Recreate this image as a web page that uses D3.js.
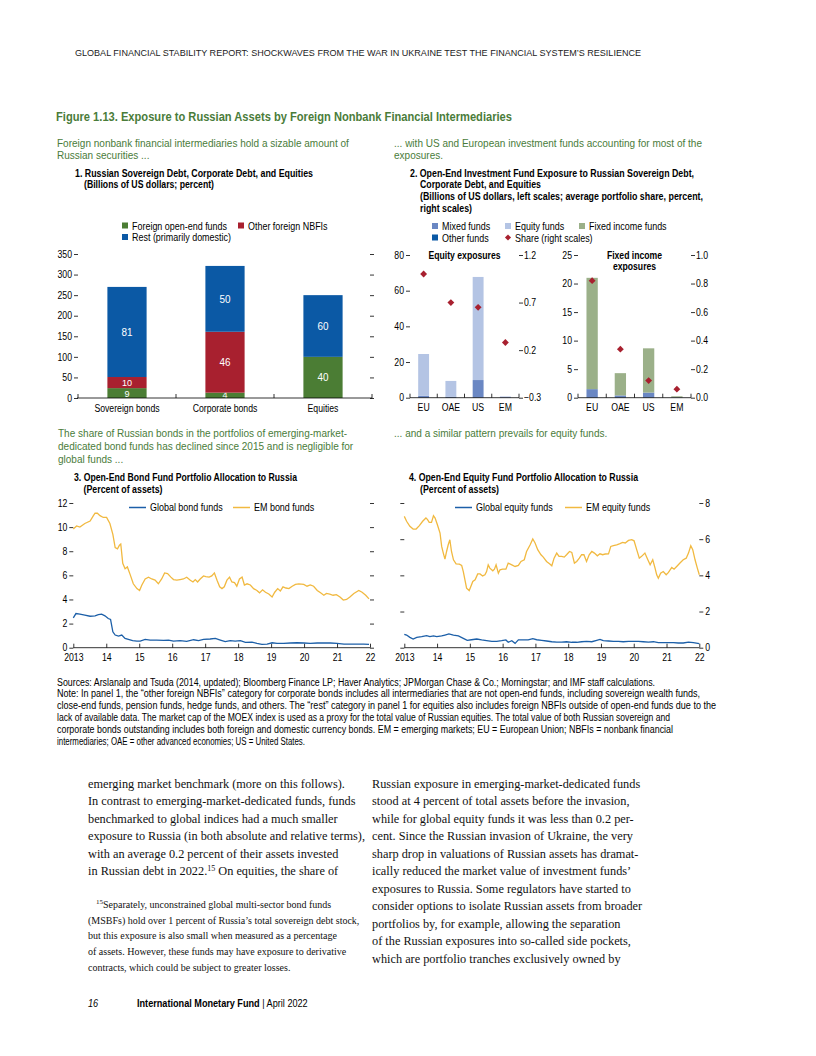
<!DOCTYPE html>
<html>
<head>
<meta charset="utf-8">
<script src="https://cdn.jsdelivr.net/npm/d3@7"></script>
<style>
  body { margin: 0; background: #fff; }
  svg { display: block; }
</style>
</head>
<body>
<svg id="page" width="816" height="1056"></svg>
<script>
// ---------- DATA ----------
// Panel 1 (billions of US dollars; labels are percent of total)
const p1Categories = ["Sovereign bonds", "Corporate bonds", "Equities"];
const p1Foreign = [24, 13, 100];
const p1Other = [27, 148, 0];
const p1Rest = [219, 160, 150];
const p1PctForeign = [9, 4, 40];
const p1PctOther = [10, 46, null];
const p1PctRest = [81, 50, 60];
const p1Ticks = [0, 50, 100, 150, 200, 250, 300, 350];

// Panel 2
const p2Regions = ["EU", "OAE", "US", "EM"];
const eqMixed = [1.1, 0.6, 9.9, 0.3];
const eqEquity = [23.4, 8.8, 57.8, 0.4];
const eqOther = [0, 0, 0, 0];
const eqShare = [1.0, 0.70, 0.65, 0.28];
const fiMixed = [1.5, 0.4, 0.9, 0.05];
const fiFixed = [19.5, 3.9, 7.75, 0.2];
const fiOther = [0, 0, 0, 0];
const fiShare = [0.82, 0.34, 0.12, 0.06];
const eqLeftTicks = [0, 20, 40, 60, 80];
const eqRightTicks = [-0.3, 0.2, 0.7, 1.2];
const fiLeftTicks = [0, 5, 10, 15, 20, 25];
const fiRightTicks = [0, 0.2, 0.4, 0.6, 0.8, 1.0];

// Panel 3 (percent of assets) [decimal year, value]
const globalBond = [[2013.00,2.48],[2013.08,2.83],[2013.20,2.78],[2013.35,2.70],[2013.51,2.61],[2013.66,2.64],[2013.76,2.75],[2013.86,2.78],[2013.96,2.64],[2014.06,2.42],[2014.13,2.34],[2014.20,1.32],[2014.27,1.05],[2014.37,0.96],[2014.47,1.05],[2014.57,0.77],[2014.67,0.69],[2014.80,0.58],[2014.93,0.55],[2015.03,0.55],[2015.18,0.69],[2015.33,0.63],[2015.53,0.63],[2015.74,0.60],[2015.89,0.63],[2016.04,0.55],[2016.24,0.58],[2016.44,0.52],[2016.65,0.66],[2016.80,0.58],[2016.95,0.69],[2017.15,0.72],[2017.31,0.77],[2017.46,0.63],[2017.61,0.50],[2017.76,0.58],[2017.91,0.55],[2018.07,0.58],[2018.22,0.44],[2018.42,0.47],[2018.57,0.36],[2018.72,0.28],[2018.88,0.30],[2019.03,0.41],[2019.18,0.36],[2019.38,0.36],[2019.59,0.39],[2019.79,0.41],[2019.99,0.39],[2020.19,0.36],[2020.40,0.39],[2020.60,0.39],[2020.80,0.39],[2021.00,0.36],[2021.21,0.30],[2021.41,0.30],[2021.61,0.30],[2021.81,0.30],[2021.97,0.28]];
const emBond = [[2013.00,9.85],[2013.10,10.1],[2013.20,10.0],[2013.35,10.3],[2013.51,10.5],[2013.61,10.95],[2013.66,11.15],[2013.73,11.15],[2013.81,10.95],[2013.91,10.8],[2014.01,10.8],[2014.11,10.3],[2014.20,9.4],[2014.27,8.3],[2014.34,8.2],[2014.40,8.5],[2014.44,8.6],[2014.50,7.0],[2014.57,6.55],[2014.64,6.7],[2014.72,6.1],[2014.82,5.3],[2014.93,4.9],[2015.01,4.75],[2015.08,5.2],[2015.18,5.7],[2015.28,5.85],[2015.38,5.7],[2015.48,5.6],[2015.58,5.3],[2015.68,5.7],[2015.77,6.2],[2015.86,6.15],[2015.96,5.85],[2016.04,5.65],[2016.14,5.6],[2016.24,5.65],[2016.34,5.7],[2016.44,5.85],[2016.55,5.6],[2016.63,5.45],[2016.70,5.65],[2016.77,5.45],[2016.85,5.7],[2016.95,5.95],[2017.02,5.9],[2017.12,5.85],[2017.20,5.95],[2017.28,6.2],[2017.36,5.6],[2017.44,5.05],[2017.51,4.9],[2017.58,5.05],[2017.66,5.6],[2017.74,5.85],[2017.81,5.45],[2017.89,5.4],[2017.96,5.1],[2018.04,5.7],[2018.12,5.85],[2018.19,5.2],[2018.27,5.3],[2018.37,5.2],[2018.47,4.9],[2018.57,4.75],[2018.65,4.55],[2018.74,4.8],[2018.83,4.6],[2018.93,4.45],[2019.03,4.2],[2019.11,4.6],[2019.20,4.9],[2019.28,4.7],[2019.36,5.05],[2019.45,4.95],[2019.54,4.9],[2019.64,5.1],[2019.74,5.25],[2019.84,5.3],[2019.99,5.25],[2020.09,5.1],[2020.19,5.2],[2020.29,5.1],[2020.40,4.75],[2020.50,4.55],[2020.60,4.35],[2020.68,4.5],[2020.78,4.45],[2020.88,4.35],[2020.98,4.4],[2021.09,4.2],[2021.19,3.95],[2021.29,4.0],[2021.39,4.2],[2021.51,4.5],[2021.66,4.75],[2021.76,4.6],[2021.87,4.35],[2021.97,4.05]];
const p3Ticks = [0, 2, 4, 6, 8, 10, 12];

// Panel 4 (percent of assets)
const globalEquity = [[2013.00,0.74],[2013.07,0.70],[2013.17,0.57],[2013.27,0.48],[2013.38,0.57],[2013.53,0.61],[2013.68,0.67],[2013.78,0.61],[2013.89,0.65],[2013.99,0.61],[2014.14,0.65],[2014.24,0.70],[2014.36,0.76],[2014.50,0.70],[2014.65,0.65],[2014.80,0.52],[2014.92,0.41],[2015.05,0.44],[2015.21,0.48],[2015.36,0.43],[2015.51,0.39],[2015.67,0.35],[2015.82,0.35],[2015.97,0.39],[2016.10,0.43],[2016.17,0.30],[2016.28,0.39],[2016.38,0.24],[2016.48,0.43],[2016.63,0.43],[2016.78,0.43],[2016.92,0.50],[2017.04,0.44],[2017.19,0.41],[2017.34,0.37],[2017.50,0.33],[2017.65,0.31],[2017.80,0.31],[2017.95,0.33],[2018.11,0.30],[2018.26,0.30],[2018.41,0.33],[2018.56,0.35],[2018.72,0.33],[2018.87,0.41],[2018.97,0.46],[2019.07,0.39],[2019.23,0.37],[2019.38,0.35],[2019.53,0.35],[2019.68,0.33],[2019.84,0.35],[2019.99,0.35],[2020.14,0.35],[2020.29,0.33],[2020.45,0.31],[2020.60,0.33],[2020.75,0.28],[2020.90,0.28],[2021.06,0.28],[2021.21,0.28],[2021.36,0.26],[2021.51,0.26],[2021.67,0.31],[2021.82,0.28],[2022.00,0.22]];
const emEquity = [[2013.00,7.26],[2013.07,6.99],[2013.17,6.71],[2013.27,6.56],[2013.36,6.56],[2013.46,6.75],[2013.56,6.99],[2013.66,7.17],[2013.71,7.08],[2013.76,6.93],[2013.83,6.93],[2013.89,7.30],[2013.94,7.17],[2014.01,6.80],[2014.09,6.34],[2014.14,5.60],[2014.19,5.23],[2014.24,4.90],[2014.29,5.32],[2014.34,5.69],[2014.39,5.97],[2014.44,5.32],[2014.50,4.86],[2014.58,4.64],[2014.68,4.62],[2014.75,4.55],[2014.80,4.21],[2014.85,3.75],[2014.90,3.29],[2014.98,3.16],[2015.03,3.38],[2015.09,3.66],[2015.16,3.75],[2015.24,4.08],[2015.31,4.08],[2015.39,3.97],[2015.46,4.03],[2015.51,4.21],[2015.56,4.58],[2015.61,4.40],[2015.70,4.25],[2015.75,4.34],[2015.80,4.58],[2015.87,4.12],[2015.92,4.31],[2016.00,4.34],[2016.10,4.34],[2016.17,4.68],[2016.28,4.58],[2016.38,4.49],[2016.48,4.55],[2016.56,4.77],[2016.66,4.86],[2016.73,5.32],[2016.84,5.69],[2016.92,6.01],[2016.99,5.79],[2017.07,5.42],[2017.17,5.14],[2017.24,5.01],[2017.34,4.77],[2017.43,4.64],[2017.50,4.53],[2017.57,4.95],[2017.65,5.23],[2017.72,5.05],[2017.80,5.05],[2017.88,5.01],[2017.95,5.14],[2018.04,5.32],[2018.11,5.27],[2018.19,4.68],[2018.26,4.77],[2018.34,4.95],[2018.41,5.14],[2018.48,5.14],[2018.56,4.77],[2018.64,5.14],[2018.72,5.32],[2018.80,5.23],[2018.89,5.08],[2018.97,5.19],[2019.05,5.14],[2019.13,5.18],[2019.23,5.19],[2019.30,5.60],[2019.38,5.64],[2019.48,5.69],[2019.58,5.75],[2019.66,5.82],[2019.74,5.79],[2019.84,5.93],[2019.94,5.97],[2020.01,5.91],[2020.09,5.42],[2020.17,4.95],[2020.24,5.05],[2020.34,5.23],[2020.43,4.86],[2020.50,4.58],[2020.58,4.86],[2020.65,4.40],[2020.70,4.03],[2020.75,3.84],[2020.82,4.12],[2020.90,4.21],[2020.99,4.03],[2021.06,4.16],[2021.16,4.44],[2021.23,4.34],[2021.31,4.49],[2021.41,4.68],[2021.51,4.86],[2021.60,4.95],[2021.67,5.23],[2021.74,5.64],[2021.80,5.42],[2021.87,4.86],[2021.94,4.40],[2022.00,4.03]];
const p4Ticks = [0, 2, 4, 6, 8];
const yearTicks = [2013, 2014, 2015, 2016, 2017, 2018, 2019, 2020, 2021, 2022];
const yearLabels = ["2013", "14", "15", "16", "17", "18", "19", "20", "21", "22"];

// ---------- STYLE ----------
const SANS = "'Liberation Sans', Arial, sans-serif";
const SERIF = "'Liberation Serif', 'DejaVu Serif', serif";
const SX = 0.87; // horizontal squeeze to mimic a condensed face
const GREEN = "#4a7c3a";
const C_FOREIGN = "#4b7d34", C_OTHER = "#a8202f", C_REST = "#0b59a5";
const C_MIXED = "#6a87c3", C_EQUITY = "#b4c4e4", C_FIXED = "#9bb089", C_OTHERF = "#0b59a5";
const C_GLOBAL = "#1c5fa8", C_EM = "#f1b940";

const svg = d3.select("#page");

function txt(x, y, s, o = {}) {
  let sx = o.sx !== undefined ? o.sx : (o.family === SERIF ? 1 : SX);
  if (o.len) sx = 1;
  const t = svg.append("text")
    .attr("transform", `translate(${x},${y}) scale(${sx},1)`)
    .attr("font-family", o.family || SANS)
    .attr("font-size", o.size || 10)
    .attr("font-weight", o.weight || "normal")
    .attr("fill", o.fill || "#000")
    .attr("text-anchor", o.anchor || "start")
    .text(s);
  if (o.len) t.attr("textLength", o.len).attr("lengthAdjust", "spacingAndGlyphs");
  if (o.italic) t.attr("font-style", "italic");
  return t;
}

function styleAxis(g) {
  g.select(".domain").remove();
  g.selectAll("line").attr("stroke", "#000").attr("stroke-width", 0.8);
  g.selectAll("text").each(function () {
    const t = d3.select(this);
    const x = +t.attr("x") || 0;
    t.attr("x", x / SX).attr("transform", `scale(${SX},1)`);
  }).attr("font-family", SANS).attr("font-size", 10).attr("fill", "#000");
}

// ---------- PAGE TEXT ----------
txt(75, 55.5, "GLOBAL FINANCIAL STABILITY REPORT: SHOCKWAVES FROM THE WAR IN UKRAINE TEST THE FINANCIAL SYSTEM\u2019S RESILIENCE",
  { size: 8.4, len: 566, fill: "#222" });
txt(56, 121, "Figure 1.13. Exposure to Russian Assets by Foreign Nonbank Financial Intermediaries",
  { size: 12.8, weight: "bold", fill: GREEN, len: 456 });

const SUB = { size: 11.6, fill: GREEN, sx: 0.865 };
const B = (len) => ({ size: 10, weight: "bold", len });
txt(57, 146.7, "Foreign nonbank financial intermediaries hold a sizable amount of", SUB);
txt(57, 158.5, "Russian securities ...", SUB);
txt(75, 176.5, "1. Russian Sovereign Debt, Corporate Debt, and Equities", B(238));
txt(84, 188, "(Billions of US dollars; percent)", B(130));

txt(394, 146.7, "... with US and European investment funds accounting for most of the", SUB);
txt(394, 158.5, "exposures.", SUB);
txt(410, 176.7, "2. Open-End Investment Fund Exposure to Russian Sovereign Debt,", B(284));
txt(420, 188.3, "Corporate Debt, and Equities", B(121));
txt(420, 200, "(Billions of US dollars, left scales; average portfolio share, percent,", B(283));
txt(420, 211.6, "right scales)", B(52));

txt(58, 436.7, "The share of Russian bonds in the portfolios of emerging-market-", SUB);
txt(58, 450, "dedicated bond funds has declined since 2015 and is negligible for", SUB);
txt(58, 463.3, "global funds ...", SUB);
txt(74, 481, "3. Open-End Bond Fund Portfolio Allocation to Russia", B(223));
txt(83.5, 492.7, "(Percent of assets)", B(79));

txt(394, 436.7, "... and a similar pattern prevails for equity funds.", SUB);
txt(409, 481, "4. Open-End Equity Fund Portfolio Allocation to Russia", B(229));
txt(420, 492.7, "(Percent of assets)", B(79));

// ---------- PANEL 1 ----------
const x1 = d3.scaleBand().domain(p1Categories).range([78, 372]).paddingInner(0.6).paddingOuter(0.3);
const y1 = d3.scaleLinear().domain([0, 350]).range([398, 254]);

svg.append("g").attr("transform", "translate(78,0)")
  .call(d3.axisLeft(y1).tickValues(p1Ticks).tickSize(4).tickPadding(2)).call(styleAxis);
svg.append("g").attr("transform", "translate(370,0)")
  .call(d3.axisRight(y1).tickValues(p1Ticks).tickSize(4).tickFormat("")).call(styleAxis);

const p1Stack = p1Categories.map((c, i) => ({ c, segs: [
  { v: p1Foreign[i], pct: p1PctForeign[i], color: C_FOREIGN },
  { v: p1Other[i], pct: p1PctOther[i], color: C_OTHER },
  { v: p1Rest[i], pct: p1PctRest[i], color: C_REST }] }));

p1Stack.forEach(d => {
  let base = 0;
  d.segs.forEach(s => {
    if (s.v > 0) {
      const top = y1(base + s.v), bot = y1(base);
      svg.append("rect")
        .attr("x", x1(d.c)).attr("width", x1.bandwidth())
        .attr("y", top).attr("height", bot - top)
        .attr("fill", s.color);
      if (s.pct !== null) {
        // thin segments: hang the label from the top, but keep it above the axis
        const thin = bot - top < 14;
        const ty = thin ? Math.min(top + 9, bot - 0.5) : (top + bot) / 2 + 3.8;
        txt(x1(d.c) + x1.bandwidth() / 2, ty, s.pct,
          { size: thin ? 9.9 : 10.8, fill: "#fff", anchor: "middle", sx: 0.92 });
      }
    }
    base += s.v;
  });
});

const ax1 = svg.append("g").attr("transform", "translate(0,398)")
  .call(d3.axisBottom(x1).tickSize(0).tickPadding(6.5));
styleAxis(ax1);
svg.append("line").attr("x1", x1.range()[0] - 1).attr("x2", x1.range()[1])
  .attr("y1", 398).attr("y2", 398).attr("stroke", "#000").attr("stroke-width", 0.8);
const gap1 = (x1.step() - x1.bandwidth()) / 2;
p1Categories.map(c => x1(c) - gap1).concat([x1.range()[1]]).forEach(bx => {
  svg.append("line").attr("x1", bx).attr("x2", bx).attr("y1", 398).attr("y2", 394)
    .attr("stroke", "#000").attr("stroke-width", 0.8);
});

// legend panel 1
[[122, 229.5, C_FOREIGN, "Foreign open-end funds"], [238, 229.5, C_OTHER, "Other foreign NBFIs"],
 [122, 241, C_REST, "Rest (primarily domestic)"]].forEach(l => {
  svg.append("rect").attr("x", l[0]).attr("y", l[1] - 7).attr("width", 6).attr("height", 6).attr("fill", l[2]);
  txt(l[0] + 10, l[1], l[3], { size: 10.3 });
});

// ---------- PANEL 2 ----------
function subPanel(o) {
  const x = d3.scaleBand().domain(p2Regions).range(o.xr).paddingInner(0.6).paddingOuter(0.3);
  const yl = d3.scaleLinear().domain(o.ld).range([397.7, 255]);
  const yr = d3.scaleLinear().domain(o.rd).range([397.7, 255]);
  svg.append("g").attr("transform", `translate(${o.xr[0]},0)`)
    .call(d3.axisLeft(yl).tickValues(o.lt).tickSize(4).tickPadding(2)).call(styleAxis);
  svg.append("g").attr("transform", `translate(${o.xr[1]},0)`)
    .call(d3.axisRight(yr).tickValues(o.rt).tickSize(4).tickPadding(1).tickFormat(o.rf)).call(styleAxis);

  p2Regions.forEach((r, i) => {
    let base = 0;
    o.series.forEach(s => {
      const v = s.vals[i];
      if (v > 0) {
        svg.append("rect").attr("x", x(r)).attr("width", x.bandwidth())
          .attr("y", yl(base + v)).attr("height", yl(base) - yl(base + v)).attr("fill", s.color);
      }
      base += v;
    });
  });
  const ax = svg.append("g").attr("transform", "translate(0,397.7)")
    .call(d3.axisBottom(x).tickSize(0).tickPadding(6.5));
  styleAxis(ax);
  svg.append("line").attr("x1", o.xr[0]).attr("x2", o.xr[1])
    .attr("y1", 397.7).attr("y2", 397.7).attr("stroke", "#000").attr("stroke-width", 0.8);
  const gap = (x.step() - x.bandwidth()) / 2;
  p2Regions.map(r => x(r) - gap).concat([o.xr[1]]).forEach(bx => {
    svg.append("line").attr("x1", bx).attr("x2", bx).attr("y1", 397.7).attr("y2", 393.7)
      .attr("stroke", "#000").attr("stroke-width", 0.8);
  });
  p2Regions.forEach((r, i) => {
    svg.append("path").attr("d", d3.symbol(d3.symbolDiamond2, 30)())
      .attr("transform", `translate(${x(r) + x.bandwidth() / 2},${yr(o.share[i])})`)
      .attr("fill", C_OTHER);
  });
  o.title.forEach((t, k) => txt((o.xr[0] + o.xr[1]) / 2, 258.5 + k * 11.5, t,
    { size: 10.3, weight: "bold", anchor: "middle", sx: 0.84 }));
}

subPanel({ xr: [410, 519], ld: [0, 80], rd: [-0.3, 1.2], lt: eqLeftTicks, rt: eqRightTicks,
  rf: d => d < 0 ? "\u2212" + Math.abs(d).toFixed(1) : d.toFixed(1),
  series: [{ vals: eqMixed, color: C_MIXED }, { vals: eqEquity, color: C_EQUITY }, { vals: eqOther, color: C_OTHERF }],
  share: eqShare, title: ["Equity exposures"] });
subPanel({ xr: [578, 691], ld: [0, 25], rd: [0, 1], lt: fiLeftTicks, rt: fiRightTicks,
  rf: d3.format(".1f"),
  series: [{ vals: fiMixed, color: C_MIXED }, { vals: fiFixed, color: C_FIXED }, { vals: fiOther, color: C_OTHERF }],
  share: fiShare, title: ["Fixed income", "exposures"] });

// legend panel 2
[[432, 230, C_MIXED, "Mixed funds"], [505, 230, C_EQUITY, "Equity funds"], [579, 230, C_FIXED, "Fixed income funds"],
 [432, 241.5, C_OTHERF, "Other funds"]].forEach(l => {
  svg.append("rect").attr("x", l[0]).attr("y", l[1] - 7).attr("width", 6).attr("height", 6).attr("fill", l[2]);
  txt(l[0] + 10, l[1], l[3], { size: 10.3 });
});
svg.append("path").attr("d", d3.symbol(d3.symbolDiamond2, 24)())
  .attr("transform", "translate(508,237.5)").attr("fill", C_OTHER);
txt(515, 241.5, "Share (right scales)", { size: 10.3 });

// ---------- PANELS 3 & 4 ----------
function linePanel(o) {
  const x = d3.scaleLinear().domain([2013, 2022]).range(o.xr);
  const y = d3.scaleLinear().domain([0, o.ymax]).range([647.7, 503]);
  svg.append("g").attr("transform", `translate(${o.xr[0]},0)`)
    .call(d3.axisLeft(y).tickValues(o.ticks).tickSize(4).tickPadding(2).tickFormat(o.leftLabels ? d3.format("d") : ""))
    .call(styleAxis);
  svg.append("g").attr("transform", `translate(${o.xr[1]},0)`)
    .call(d3.axisRight(y).tickValues(o.ticks).tickSize(4).tickPadding(2).tickFormat(o.leftLabels ? "" : d3.format("d")))
    .call(styleAxis);
  const ax = svg.append("g").attr("transform", "translate(0,647.7)")
    .call(d3.axisBottom(x).tickValues(yearTicks).tickSizeInner(-4).tickSizeOuter(0).tickPadding(6)
      .tickFormat((d, i) => yearLabels[i]));
  styleAxis(ax);
  svg.append("line").attr("x1", o.xr[0]).attr("x2", o.xr[1]).attr("y1", 647.7).attr("y2", 647.7)
    .attr("stroke", "#000").attr("stroke-width", 0.8);
  const line = d3.line().x(d => x(d[0])).y(d => y(d[1]));
  svg.append("path").datum(o.em).attr("d", line).attr("fill", "none").attr("stroke", C_EM).attr("stroke-width", 1.3);
  svg.append("path").datum(o.glob).attr("d", line).attr("fill", "none").attr("stroke", C_GLOBAL).attr("stroke-width", 1.3);
  o.legend.forEach(l => {
    svg.append("line").attr("x1", l[0]).attr("x2", l[0] + 17).attr("y1", 507.5).attr("y2", 507.5)
      .attr("stroke", l[1]).attr("stroke-width", 1.5);
    txt(l[0] + 21, 511, l[2], { size: 10.3 });
  });
}

linePanel({ xr: [73.3, 370], ymax: 12, ticks: p3Ticks, leftLabels: true, em: emBond, glob: globalBond,
  legend: [[129, C_GLOBAL, "Global bond funds"], [233, C_EM, "EM bond funds"]] });
linePanel({ xr: [404.3, 699.3], ymax: 8, ticks: p4Ticks, leftLabels: false, em: emEquity, glob: globalEquity,
  legend: [[455, C_GLOBAL, "Global equity funds"], [565, C_EM, "EM equity funds"]] });

// ---------- NOTES ----------
const notes = [
  "Sources: Arslanalp and Tsuda (2014, updated); Bloomberg Finance LP; Haver Analytics; JPMorgan Chase & Co.; Morningstar; and IMF staff calculations.",
  "Note: In panel 1, the \u201cother foreign NBFIs\u201d category for corporate bonds includes all intermediaries that are not open-end funds, including sovereign wealth funds,",
  "close-end funds, pension funds, hedge funds, and others. The \u201crest\u201d category in panel 1 for equities also includes foreign NBFIs outside of open-end funds due to the",
  "lack of available data. The market cap of the MOEX index is used as a proxy for the total value of Russian equities. The total value of both Russian sovereign and",
  "corporate bonds outstanding includes both foreign and domestic currency bonds. EM = emerging markets; EU = European Union; NBFIs = nonbank financial",
  "intermediaries; OAE = other advanced economies; US = United States."
];
const noteLens = [598, 643, 659, 613, 616, 248];
notes.forEach((n, i) => txt(57, 685.5 + i * 11.9, n, { size: 10, len: noteLens[i] }));

// ---------- BODY ----------
const bodyLeft = [
  "emerging market benchmark (more on this follows).",
  "In contrast to emerging-market-dedicated funds, funds",
  "benchmarked to global indices had a much smaller",
  "exposure to Russia (in both absolute and relative terms),",
  "with an average 0.2 percent of their assets invested"
];
const bodyRight = [
  "Russian exposure in emerging-market-dedicated funds",
  "stood at 4 percent of total assets before the invasion,",
  "while for global equity funds it was less than 0.2 per-",
  "cent. Since the Russian invasion of Ukraine, the very",
  "sharp drop in valuations of Russian assets has dramat-",
  "ically reduced the market value of investment funds\u2019",
  "exposures to Russia. Some regulators have started to",
  "consider options to isolate Russian assets from broader",
  "portfolios by, for example, allowing the separation",
  "of the Russian exposures into so-called side pockets,",
  "which are portfolio tranches exclusively owned by"
];
const BODY = { family: SERIF, size: 12.3, fill: "#111" };
bodyLeft.forEach((l, i) => txt(88, 788 + i * 17.45, l, BODY));
const last = txt(88, 788 + 5 * 17.45, "in Russian debt in 2022.", BODY);
last.append("tspan").attr("dy", -4.5).attr("font-size", 8).text("15");
last.append("tspan").attr("dy", 4.5).text(" On equities, the share of");
bodyRight.forEach((l, i) => txt(372, 788 + i * 17.45, l, BODY));

const fn = [
  "(MSBFs) hold over 1 percent of Russia\u2019s total sovereign debt stock,",
  "but this exposure is also small when measured as a percentage",
  "of assets. However, these funds may have exposure to derivative",
  "contracts, which could be subject to greater losses."
];
const FN = { family: SERIF, size: 10, fill: "#111" };
const f0 = txt(96, 907.5, "", FN);
f0.append("tspan").attr("dy", -3.5).attr("font-size", 7).text("15");
f0.append("tspan").attr("dy", 3.5).text("Separately, unconstrained global multi-sector bond funds");
fn.forEach((l, i) => txt(88, 923.5 + i * 15.9, l, FN));

// ---------- FOOTER ----------
txt(88, 1007, "16", { size: 10.5, italic: true });
const ft = txt(137, 1007, "International Monetary Fund", { size: 10.5, weight: "bold" });
ft.append("tspan").attr("font-weight", "normal").text(" | April 2022");
</script>
</body>
</html>
